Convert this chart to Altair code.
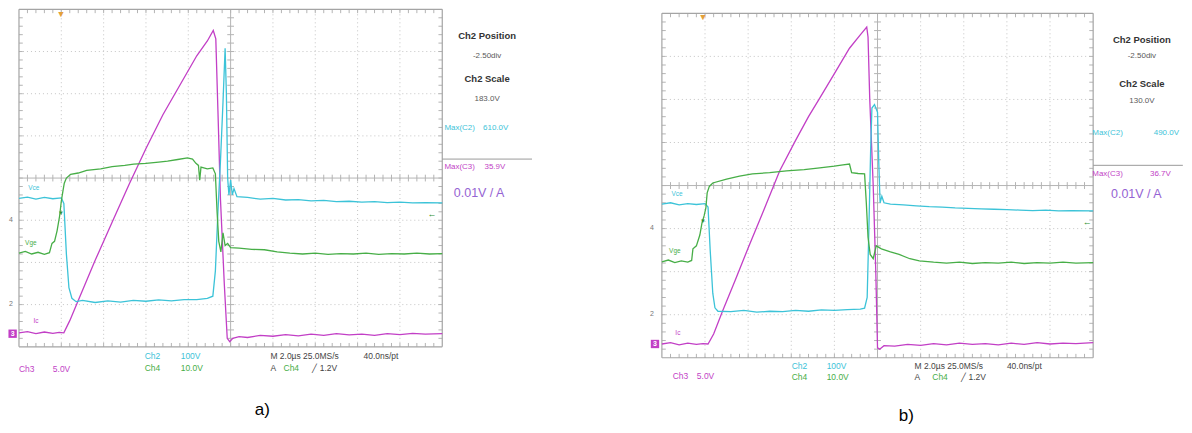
import altair as alt
import pandas as pd
import numpy as np

# ---------------- trace data, in scope divisions (x: 0..10, y: 0..8) ----------------
A_IC = [(0.0, 0.33), (0.2, 0.36), (0.4, 0.31), (0.6, 0.35), (0.8, 0.32), (0.95, 0.34), (1.06, 0.33),
        (1.2, 0.62), (1.4, 1.1), (1.8, 2.05), (2.2, 2.95), (2.6, 3.85), (3.0, 4.7), (3.4, 5.5),
        (3.8, 6.2), (4.2, 6.9), (4.45, 7.25), (4.59, 7.5), (4.65, 7.3), (4.7, 5.6), (4.76, 3.5),
        (4.85, 1.5), (4.92, 0.2), (4.98, 0.12), (5.05, 0.2), (5.2, 0.24), (5.4, 0.22), (5.7, 0.27),
        (6.0, 0.25), (6.3, 0.29), (6.6, 0.26), (6.9, 0.3), (7.2, 0.27), (7.5, 0.31), (7.8, 0.28),
        (8.1, 0.3), (8.4, 0.27), (8.7, 0.31), (9.0, 0.29), (9.3, 0.32), (9.6, 0.3), (10.0, 0.31)]
A_VCE = [(0.0, 3.52), (0.2, 3.55), (0.4, 3.5), (0.6, 3.54), (0.8, 3.51), (1.0, 3.53), (1.06, 3.4),
         (1.12, 2.2), (1.18, 1.4), (1.25, 1.15), (1.35, 1.07), (1.5, 1.1), (1.8, 1.05), (2.1, 1.09),
         (2.4, 1.06), (2.7, 1.1), (3.0, 1.08), (3.3, 1.11), (3.6, 1.09), (3.9, 1.12), (4.2, 1.12),
         (4.45, 1.15), (4.58, 1.2), (4.64, 1.8), (4.7, 3.2), (4.76, 4.4), (4.82, 5.8), (4.87, 7.08),
         (4.9, 6.0), (4.93, 4.0), (4.96, 3.6), (5.0, 3.95), (5.04, 3.6), (5.08, 3.75), (5.15, 3.56),
         (5.4, 3.54), (5.7, 3.5), (6.0, 3.52), (6.3, 3.48), (6.6, 3.49), (6.9, 3.46), (7.2, 3.47),
         (7.5, 3.44), (7.8, 3.45), (8.1, 3.43), (8.4, 3.44), (8.7, 3.42), (9.0, 3.43), (9.3, 3.41),
         (9.6, 3.42), (10.0, 3.41)]
A_VGE = [(0.0, 2.22), (0.15, 2.26), (0.3, 2.2), (0.45, 2.24), (0.6, 2.19), (0.72, 2.23), (0.78, 2.45),
         (0.84, 2.5), (0.9, 2.75), (0.96, 3.1), (1.0, 3.45), (1.04, 3.7), (1.07, 3.88), (1.12, 4.0),
         (1.22, 4.09), (1.4, 4.12), (1.6, 4.18), (1.93, 4.22), (2.2, 4.27), (2.5, 4.3), (2.71, 4.33),
         (3.0, 4.35), (3.3, 4.38), (3.51, 4.4), (3.75, 4.44), (3.98, 4.48), (4.1, 4.45), (4.18, 4.35),
         (4.24, 4.3), (4.27, 3.95), (4.3, 4.26), (4.45, 4.22), (4.58, 4.24), (4.64, 4.1), (4.68, 3.2),
         (4.72, 2.5), (4.77, 2.25), (4.82, 2.7), (4.87, 2.4), (4.93, 2.45), (5.0, 2.35), (5.2, 2.34),
         (5.5, 2.31), (5.8, 2.3), (6.1, 2.25), (6.4, 2.22), (6.7, 2.2), (7.0, 2.22), (7.3, 2.19),
         (7.6, 2.21), (7.9, 2.2), (8.2, 2.22), (8.5, 2.19), (8.8, 2.21), (9.1, 2.2), (9.4, 2.22),
         (9.7, 2.2), (10.0, 2.21)]

B_IC = [(0.0, 0.32), (0.2, 0.35), (0.4, 0.3), (0.6, 0.34), (0.8, 0.31), (0.95, 0.33), (1.07, 0.32),
        (1.2, 0.55), (1.41, 1.09), (1.7, 1.8), (2.0, 2.55), (2.35, 3.4), (2.73, 4.34), (3.1, 5.05),
        (3.4, 5.6), (3.66, 6.03), (4.0, 6.6), (4.35, 7.19), (4.6, 7.5), (4.75, 7.68), (4.78, 7.45),
        (4.82, 6.0), (4.9, 4.0), (4.96, 2.0), (5.0, 0.23), (5.05, 0.2), (5.15, 0.28), (5.4, 0.27),
        (5.7, 0.31), (6.0, 0.29), (6.3, 0.33), (6.6, 0.3), (6.9, 0.34), (7.2, 0.31), (7.5, 0.33),
        (7.8, 0.3), (8.1, 0.34), (8.4, 0.31), (8.7, 0.35), (9.0, 0.32), (9.3, 0.34), (9.6, 0.33),
        (10.0, 0.35)]
B_VCE = [(0.0, 3.57), (0.2, 3.6), (0.4, 3.55), (0.6, 3.58), (0.8, 3.56), (1.0, 3.58), (1.07, 3.5),
         (1.12, 2.5), (1.18, 1.5), (1.23, 1.16), (1.3, 1.08), (1.6, 1.07), (1.9, 1.1), (2.2, 1.06),
         (2.5, 1.08), (2.8, 1.07), (3.1, 1.1), (3.4, 1.08), (3.7, 1.11), (4.0, 1.1), (4.3, 1.12),
         (4.6, 1.13), (4.7, 1.15), (4.76, 1.4), (4.8, 3.0), (4.84, 4.8), (4.87, 5.8), (4.93, 5.88),
         (5.0, 5.7), (5.03, 4.5), (5.06, 3.6), (5.1, 3.75), (5.15, 3.6), (5.3, 3.57), (5.6, 3.55),
         (5.9, 3.53), (6.2, 3.51), (6.5, 3.5), (6.8, 3.48), (7.1, 3.47), (7.4, 3.46), (7.7, 3.45),
         (8.0, 3.44), (8.3, 3.43), (8.6, 3.42), (8.9, 3.43), (9.2, 3.41), (9.5, 3.42), (10.0, 3.41)]
B_VGE = [(0.0, 2.23), (0.15, 2.27), (0.3, 2.21), (0.45, 2.25), (0.6, 2.22), (0.69, 2.26), (0.72, 2.53),
         (0.8, 2.6), (0.88, 2.85), (0.93, 3.13), (0.98, 3.3), (1.02, 3.48), (1.05, 3.83), (1.1, 3.98),
         (1.18, 4.06), (1.5, 4.15), (1.8, 4.22), (2.1, 4.27), (2.5, 4.3), (2.89, 4.34), (3.3, 4.37),
         (3.66, 4.41), (4.0, 4.45), (4.2, 4.48), (4.35, 4.5), (4.4, 4.3), (4.55, 4.28), (4.7, 4.27),
         (4.74, 3.6), (4.78, 2.8), (4.83, 2.4), (4.9, 2.3), (4.97, 2.6), (5.09, 2.53), (5.3, 2.46),
         (5.5, 2.4), (5.75, 2.3), (5.97, 2.25), (6.3, 2.22), (6.6, 2.2), (6.9, 2.22), (7.2, 2.19),
         (7.5, 2.21), (7.8, 2.2), (8.1, 2.22), (8.4, 2.19), (8.7, 2.21), (9.0, 2.2), (9.3, 2.22),
         (9.6, 2.2), (10.0, 2.21)]

SERIES = ["Ic", "Vce", "Vge"]
MAGENTA, CYAN, GREEN = "#c23fc6", "#3cc3d8", "#47ae47"
PURPLE, DARK, GREY = "#9563d3", "#333333", "#5a5a5a"

SIDE_A = ["Ch2 Position", "-2.50div", "Ch2 Scale", "183.0V", "Max(C2)", "610.0V", "Max(C3)", "35.9V", "0.01V / A"]
SIDE_B = ["Ch2 Position", "-2.50div", "Ch2 Scale", "130.0V", "Max(C2)", "490.0V", "Max(C3)", "36.7V", "0.01V / A"]
BOTTOM = ["Ch3", "5.0V", "Ch2", "100V", "Ch4", "10.0V", "M 2.0µs 25.0MS/s", "40.0ns/pt", "A", "Ch4", "╱ 1.2V"]

FONT = "Liberation Sans"


def panel(traces, side, side_pos, bottom_pos, caption, cap_pos, labels_pos, marks_pos, sep, xdom, ydom, w, h):
    xs = alt.Scale(domain=xdom, nice=False, zero=False)
    ys = alt.Scale(domain=ydom, nice=False, zero=False)
    one = alt.Data(values=[{}])

    def txt(s, x, y, color, size, weight="normal", align="center"):
        return alt.Chart(one).mark_text(text=s, color=color, fontSize=size, fontWeight=weight,
                                        align=align, baseline="middle", font=FONT).encode(
            x=alt.XDatum(x, scale=xs, axis=None), y=alt.YDatum(y, scale=ys, axis=None))

    # graticule segments
    segs = []
    for v in [1, 2, 3, 4, 6, 7, 8, 9]:
        segs.append(dict(x=v, x2=v, y=0, y2=8, k="dot"))
    for v in [1, 2, 3, 5, 6, 7]:
        segs.append(dict(x=0, x2=10, y=v, y2=v, k="dot"))
    segs += [dict(x=5, x2=5, y=0, y2=8, k="solid"), dict(x=0, x2=10, y=4, y2=4, k="solid"),
             dict(x=0, x2=0, y=0, y2=8, k="border"), dict(x=10, x2=10, y=0, y2=8, k="border"),
             dict(x=0, x2=10, y=0, y2=0, k="border"), dict(x=0, x2=10, y=8, y2=8, k="border")]
    for t in np.round(np.arange(0.2, 10, 0.2), 2):
        segs += [dict(x=t, x2=t, y=3.92, y2=4.08, k="solid"), dict(x=t, x2=t, y=0, y2=0.09, k="solid"),
                 dict(x=t, x2=t, y=7.91, y2=8, k="solid")]
    for t in np.round(np.arange(0.2, 8, 0.2), 2):
        segs += [dict(x=4.92, x2=5.08, y=t, y2=t, k="solid"), dict(x=0, x2=0.09, y=t, y2=t, k="solid"),
                 dict(x=9.91, x2=10, y=t, y2=t, k="solid")]
    g = pd.DataFrame(segs)
    enc = dict(x=alt.X("x:Q", scale=xs, axis=None), x2="x2:Q",
               y=alt.Y("y:Q", scale=ys, axis=None), y2="y2:Q")
    dots = alt.Chart(g[g.k == "dot"]).mark_rule(color="#c4c4c4", strokeWidth=1, strokeDash=[1, 3]).encode(**enc)
    solid = alt.Chart(g[g.k == "solid"]).mark_rule(color="#b4b4b4", strokeWidth=1).encode(**enc)
    border = alt.Chart(g[g.k == "border"]).mark_rule(color="#a4a4a4", strokeWidth=1.2).encode(**enc)
    sepl = alt.Chart(pd.DataFrame([dict(x=10, x2=sep[1], y=sep[0], y2=sep[0])])).mark_rule(
        color="#9a9a9a", strokeWidth=1).encode(**enc)

    rows = []
    for name, pts in zip(SERIES, traces):
        for i, (x, y) in enumerate(pts):
            rows.append(dict(series=name, x=x, y=y, o=i))
    lines = alt.Chart(pd.DataFrame(rows)).mark_line(strokeWidth=1.3, interpolate="linear").encode(
        x=alt.X("x:Q", scale=xs, axis=None), y=alt.Y("y:Q", scale=ys, axis=None),
        color=alt.Color("series:N", scale=alt.Scale(domain=SERIES, range=[MAGENTA, CYAN, GREEN]), legend=None),
        order="o:Q")

    layers = [dots, solid, border, sepl, lines]

    # side panel texts
    side_style = [(DARK, 9.5, "bold", "center"), (GREY, 8, "normal", "center"),
                  (DARK, 9.5, "bold", "center"), (GREY, 8, "normal", "center"),
                  (CYAN, 8, "normal", "left"), (CYAN, 8, "normal", "right"),
                  (MAGENTA, 8, "normal", "left"), (MAGENTA, 8, "normal", "right"),
                  (PURPLE, 12.5, "normal", "center")]
    for s, (x, y), (c, fs, fw, al) in zip(side, side_pos, side_style):
        layers.append(txt(s, x, y, c, fs, fw, al))
    bottom_cols = [MAGENTA, MAGENTA, CYAN, CYAN, GREEN, GREEN, "#444444", "#444444", "#444444", GREEN, "#444444"]
    for s, (x, y), c in zip(BOTTOM, bottom_pos, bottom_cols):
        layers.append(txt(s, x, y, c, 8.5, "normal", "left"))
    layers.append(txt(caption, cap_pos[0], cap_pos[1], "#000000", 17))

    # trace labels
    for s, (x, y), c in zip(["Vce", "Vge", "Ic"], labels_pos, [CYAN, GREEN, MAGENTA]):
        layers.append(txt(s, x, y, c, 6.5))
    # scope markers
    m = marks_pos
    layers.append(txt("4", m["g4"][0], m["g4"][1], "#777777", 7))
    layers.append(txt("2", m["g2"][0], m["g2"][1], "#777777", 7))
    layers.append(alt.Chart(one).mark_point(shape="square", filled=True, size=70, color=MAGENTA, opacity=1).encode(
        x=alt.XDatum(m["g3"][0], scale=xs, axis=None), y=alt.YDatum(m["g3"][1], scale=ys, axis=None)))
    layers.append(txt("3", m["g3"][0], m["g3"][1], "#ffffff", 7, "bold"))
    layers.append(txt("▼", m["tpos"][0], m["tpos"][1], "#e3a03a", 9))
    layers.append(txt("▼", m["trig"][0], m["trig"][1], "#2f8f2f", 6))
    layers.append(txt("←", m["tlev"][0], m["tlev"][1], "#2f8f2f", 9))

    return alt.layer(*layers).properties(width=w, height=h)


pa = panel(
    [A_IC, A_VCE, A_VGE], SIDE_A,
    [(11.06, 7.36), (11.06, 6.89), (11.06, 6.34), (11.06, 5.87), (10.05, 5.18), (11.56, 5.18),
     (10.05, 4.26), (11.49, 4.26), (10.87, 3.64)],
    [(0.0, -0.52), (0.8, -0.52), (2.97, -0.21), (3.82, -0.21), (2.97, -0.5), (3.82, -0.5),
     (5.94, -0.21), (8.14, -0.21), (5.94, -0.5), (6.25, -0.5), (6.93, -0.5)],
    "a)", (5.75, -1.5),
    [(0.35, 3.76), (0.28, 2.46), (0.4, 0.62)],
    dict(g4=(-0.19, 3.0), g2=(-0.19, 1.02), g3=(-0.15, 0.31), tpos=(0.99, 7.88), trig=(0.99, 3.17), tlev=(9.76, 3.15)),
    (4.45, 12.12),
    [-0.2358, 14.198], [-1.8698, 8.0], 612, 417)

pb = panel(
    [B_IC, B_VCE, B_VGE], SIDE_B,
    [(11.13, 7.37), (11.13, 7.0), (11.13, 6.35), (11.13, 5.96), (9.98, 5.22), (11.99, 5.22),
     (9.98, 4.27), (11.8, 4.27), (11.0, 3.80)],
    [(0.25, -0.42), (0.81, -0.42), (3.01, -0.19), (3.82, -0.19), (3.01, -0.44), (3.82, -0.44),
     (5.86, -0.19), (8.0, -0.19), (5.86, -0.44), (6.27, -0.44), (6.94, -0.44)],
    "b)", (5.67, -1.35),
    [(0.35, 3.80), (0.30, 2.48), (0.37, 0.58)],
    dict(g4=(-0.23, 3.01), g2=(-0.23, 1.02), g3=(-0.16, 0.32), tpos=(0.95, 7.91), trig=(0.95, 3.18), tlev=(9.86, 3.15)),
    (4.47, 12.08),
    [-0.9722, 12.0833], [-1.5768, 8.0928], 564, 417)

chart = alt.hconcat(pa, pb, spacing=0).properties(padding=0, background="white").configure_view(stroke=None)
chart.save("out.html", embed_options={"renderer": "svg", "actions": False})
